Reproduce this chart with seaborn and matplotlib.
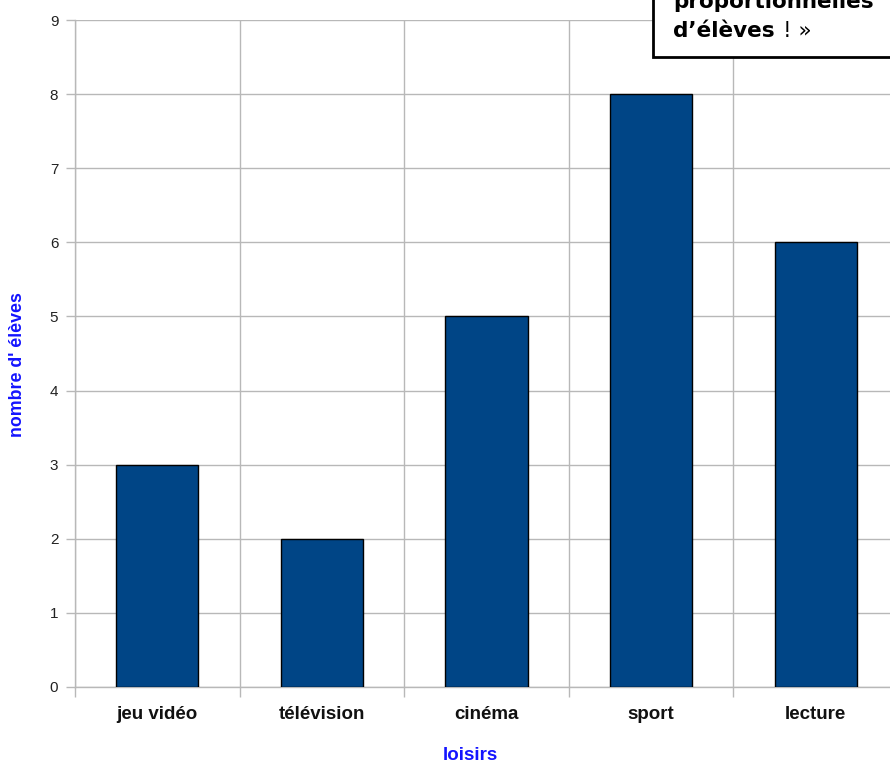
import matplotlib
matplotlib.use("Agg")
import matplotlib.pyplot as plt
import seaborn as sns
import pandas as pd
from matplotlib.patches import Rectangle
from matplotlib.ticker import FixedLocator

# Loisirs préférés des élèves
loisirs = ["jeu vidéo", "télévision", "cinéma", "sport", "lecture"]
nombre_eleves = [3, 2, 5, 8, 6]
y_ticks = list(range(0, 10))

df = pd.DataFrame({"loisirs": loisirs, "nombre": nombre_eleves})

sns.set_theme(style="white")
plt.rcParams["font.family"] = ["Liberation Sans", "DejaVu Sans"]

W, H = 890, 764
fig = plt.figure(figsize=(W / 100, H / 100), dpi=100)
ax = fig.add_axes([75 / W, 77 / H, 823 / W, 667 / H])

grid_col = "#b8b8b8"
sns.barplot(data=df, x="loisirs", y="nombre", color="#004586",
            edgecolor="black", linewidth=1.0, width=0.5, saturation=1,
            ax=ax, zorder=3)

ax.set_xlim(-0.5, len(loisirs) - 0.5)
ax.set_ylim(0, 9)
ax.set_yticks(y_ticks)
ax.set_yticklabels([str(v) for v in y_ticks], fontsize=11, color="#222222")

# vertical separators between categories
ax.xaxis.set_minor_locator(FixedLocator([i - 0.5 for i in range(len(loisirs) + 1)]))
ax.tick_params(axis="x", which="major", length=0, pad=14)
ax.tick_params(axis="x", which="minor", length=7.5, width=1, color=grid_col,
               direction="out", bottom=True)
ax.tick_params(axis="y", which="major", length=6.5, width=1, color=grid_col,
               pad=5.5, left=True)
for lbl in ax.get_xticklabels():
    lbl.set_fontsize(13.5)
    lbl.set_fontweight("bold")
    lbl.set_color("#111111")

ax.grid(True, axis="y", which="major", color=grid_col, linewidth=1, zorder=0)
ax.grid(True, axis="x", which="minor", color=grid_col, linewidth=1, zorder=0)
ax.grid(False, axis="x", which="major")
for side in ["top", "right"]:
    ax.spines[side].set_visible(False)
for side in ["left", "bottom"]:
    ax.spines[side].set_color(grid_col)
    ax.spines[side].set_linewidth(1)

ax.set_xlabel("")
ax.set_ylabel("")
fig.text(470 / W, 1 - 755 / H, "loisirs", color="#1414ff", fontsize=13.5,
         fontweight="bold", ha="center", va="center")
fig.text(18 / W, 1 - 365 / H, "nombre d' élèves", color="#1414ff",
         fontsize=12.8, fontweight="bold", rotation=90, ha="center", va="center")

# encadré de la remarque
box = Rectangle((653 / W, 1 - 57 / H), 0.5, 0.5, transform=fig.transFigure,
                facecolor="white", edgecolor="black", linewidth=2,
                zorder=10, clip_on=False)
fig.patches.append(box)
fig.text(673 / W, 1 - 8 / H, "proportionnelles", fontsize=15.5,
         fontweight="bold", family=["DejaVu Sans"], va="baseline",
         ha="left", color="black", zorder=11)
t1 = fig.text(673 / W, 1 - 37 / H, "d’élèves", fontsize=15.5,
              fontweight="bold", family=["DejaVu Sans"], va="baseline",
              ha="left", color="black", zorder=11)
fig.canvas.draw()
bb = t1.get_window_extent()
fig.text((bb.x1 + 8) / W, 1 - 37 / H, "! »", fontsize=15.5,
         family=["DejaVu Sans"], va="baseline", ha="left", color="black",
         zorder=11)

fig.savefig("out.png", dpi=100)
